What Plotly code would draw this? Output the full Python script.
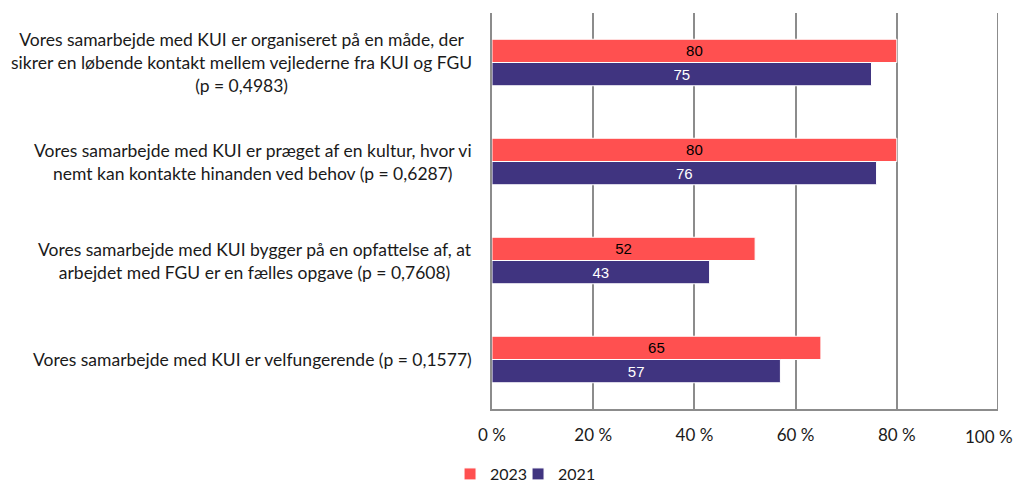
import plotly.graph_objects as go

categories = [
    "Vores samarbejde med KUI er organiseret på en måde, der<br>sikrer en løbende kontakt mellem vejlederne fra KUI og FGU<br>(p = 0,4983)",
    "Vores samarbejde med KUI er præget af en kultur, hvor vi<br>nemt kan kontakte hinanden ved behov (p = 0,6287)",
    "Vores samarbejde med KUI bygger på en opfattelse af, at<br>arbejdet med FGU er en fælles opgave (p = 0,7608)",
    "Vores samarbejde med KUI er velfungerende (p = 0,1577)",
]
values_2023 = [80, 80, 52, 65]
values_2021 = [75, 76, 43, 57]
tick_vals = [0, 20, 40, 60, 80, 100]
tick_text = ["0 %", "20 %", "40 %", "60 %", "80 %", "100 %"]

label_font = "Lato, 'Open Sans', sans-serif"

fig = go.Figure()
fig.add_trace(go.Bar(
    y=categories, x=values_2023, name="2023", orientation="h", legend="legend",
    marker=dict(color="#FF5050", line=dict(color="white", width=1)),
    text=values_2023, textposition="inside", insidetextanchor="middle", textangle=0,
    textfont=dict(family="Liberation Sans, Arial", size=15, color="black"),
))
fig.add_trace(go.Bar(
    y=categories, x=values_2021, name="2021", orientation="h", legend="legend2",
    marker=dict(color="#403480", line=dict(color="white", width=1)),
    text=values_2021, textposition="inside", insidetextanchor="middle", textangle=0,
    textfont=dict(family="Liberation Sans, Arial", size=15, color="white"),
))

# category labels as centred annotations
for c in categories:
    fig.add_annotation(
        x=0, xref="paper", xanchor="right", xshift=-18,
        y=c, yref="y", text=c, showarrow=False, align="center",
        font=dict(family=label_font, size=17.5, color="#1a1a1a"),
    )

# the last tick label would be cut at the page edge, so it is pinned to the right
fig.add_annotation(
    x=1, xref="paper", xanchor="right", xshift=17,
    y=0, yref="paper", yanchor="middle", yshift=-27,
    text=tick_text[-1], showarrow=False,
    font=dict(family=label_font, size=17, color="#1a1a1a"),
)

legend_style = dict(orientation="h", xref="container", yref="container",
                    xanchor="left", y=0.023, yanchor="middle", itemwidth=30,
                    bgcolor="rgba(0,0,0,0)",
                    font=dict(family=label_font, size=16, color="#1a1a1a"))

# page body has an 8px margin, so the figure is drawn 8px smaller
fig.update_layout(
    width=1015, height=477,
    margin=dict(l=484, r=25, t=5, b=76, autoexpand=False),
    plot_bgcolor="white", paper_bgcolor="white",
    barmode="group", bargap=0.53, bargroupgap=0,
    uniformtext=dict(minsize=10, mode="show"),
    showlegend=True,
    legend=dict(x=0.4355, **legend_style),
    legend2=dict(x=0.5025, **legend_style),
    xaxis=dict(range=[0, 100], tickvals=tick_vals[:-1], ticktext=tick_text[:-1],
               showgrid=True, gridcolor="#8c8c8c", gridwidth=2,
               showline=True, linecolor="#8c8c8c", linewidth=2,
               zeroline=False, ticks="", automargin=False, ticklabelstandoff=10,
               tickfont=dict(family=label_font, size=17, color="#1a1a1a")),
    yaxis=dict(autorange="reversed", showticklabels=False, automargin=False,
               showline=True, linecolor="#8c8c8c", linewidth=2,
               showgrid=False, ticks=""),
    # gridline at 100 % (no tick label there)
    shapes=[dict(type="line", xref="x", yref="paper", x0=tick_vals[-1], x1=tick_vals[-1],
                 y0=0, y1=1, line=dict(color="#8c8c8c", width=2))],
)

fig.write_html("out.html")
